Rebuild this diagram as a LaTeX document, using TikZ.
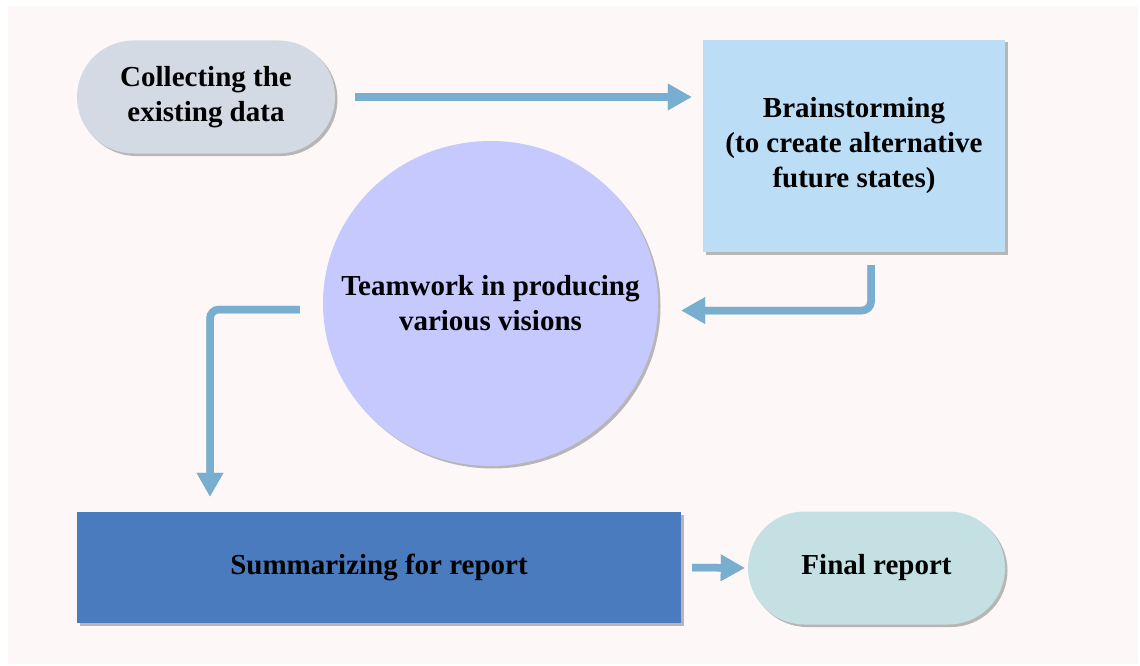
\documentclass[tikz,border=0pt]{standalone}
\usepackage{fontspec}
\setmainfont{Liberation Serif}
\usetikzlibrary{shapes.misc,shapes.geometric,shadows,arrows.meta,calc}
\definecolor{bgc}{HTML}{FDF7F7}
\definecolor{c1}{HTML}{D3DAE3}
\definecolor{c2}{HTML}{BCDDF6}
\definecolor{c3}{HTML}{C5C9FE}
\definecolor{c4}{HTML}{4A7BBE}
\definecolor{c5}{HTML}{C5E0E3}
\definecolor{arc}{HTML}{78AECF}
\tikzset{
  lbl/.style={align=center,font=\fontsize{29}{35}\selectfont\bfseries,text=black},
  shad/.style={drop shadow={shadow xshift=2.5pt,shadow yshift=-2.5pt,fill=gray,opacity=.55}},
  stadium/.style={rounded rectangle,lbl,shad,minimum width=258pt,minimum height=113pt,inner sep=0pt},
  boxnode/.style={rectangle,lbl,shad,inner sep=0pt},
  arr/.style={draw=arc,line width=7.5pt,rounded corners=9pt,-{Triangle[length=24pt,width=25pt]}},
  arrsh/.style={draw=gray!80,opacity=.6,line width=7.5pt,rounded corners=9pt,-{Triangle[length=24pt,width=25pt]}},
}
\begin{document}
\begin{tikzpicture}[x=1pt,y=-1pt]
\useasboundingbox (0,0) rectangle (1140,666);
\fill[bgc] (8,6) rectangle (1138,664);
\node[stadium,fill=c1] (collect) at (206,97) {Collecting the\\existing data};
\node[boxnode,fill=c2,minimum width=302pt,minimum height=212pt] (brain) at (854,146) {Brainstorming\\(to create alternative\\future states)};
\node[ellipse,shad,fill=c3,minimum width=335pt,minimum height=325pt,inner sep=0pt,
      label={[lbl]center:Teamwork in producing\\various visions}] (team) at (490.5,303.5) {};
\node[boxnode,fill=c4,minimum width=604pt,minimum height=111pt] (summ) at (379,567.5) {Summarizing for report};
\node[stadium,fill=c5,minimum width=257pt] (final) at (876.5,568) {Final report};
% arrows: shadows
\begin{scope}[xshift=2pt,yshift=-2pt]
\draw[arrsh] ([xshift=20pt]collect.east) -- ([xshift=-11pt]collect.east -| brain.west);
\draw[arrsh] ([xshift=17pt,yshift=-13pt]brain.south) |- ([xshift=23pt,yshift=-7pt]team.east);
\draw[arrsh] ([xshift=-23pt,yshift=-6pt]team.west) -| ([xshift=-169pt,yshift=15pt]summ.north);
\draw[arrsh] ([xshift=11pt]summ.east) -- ([xshift=-3pt]final.west);
\end{scope}
\draw[arr] ([xshift=20pt]collect.east) -- ([xshift=-11pt]collect.east -| brain.west);
\draw[arr] ([xshift=17pt,yshift=-13pt]brain.south) |- ([xshift=23pt,yshift=-7pt]team.east);
\draw[arr] ([xshift=-23pt,yshift=-6pt]team.west) -| ([xshift=-169pt,yshift=15pt]summ.north);
\draw[arr] ([xshift=11pt]summ.east) -- ([xshift=-3pt]final.west);
\end{tikzpicture}
\end{document}
